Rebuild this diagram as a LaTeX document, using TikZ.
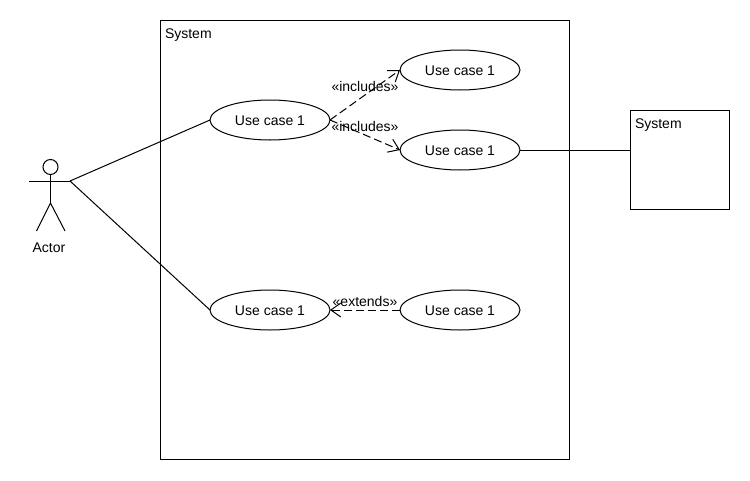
\documentclass[tikz,border=0pt]{standalone}
\usepackage{fontspec}
\setmainfont{Liberation Sans}
\usetikzlibrary{arrows.meta,shapes.geometric}

\tikzset{
  every node/.style={font=\fontsize{7.97}{9}\selectfont},
  every path/.style={line width=0.02cm},
  usecase/.style={draw,ellipse,inner sep=0pt,outer sep=0pt,minimum width=2.4cm,minimum height=0.8cm,text height=0.22cm,text depth=0cm},
  depline/.style={dash pattern=on 0.16cm off 0.08cm,-{Straight Barb[length=0.2cm,width=0.28cm]}},
  title/.style={anchor=west,inner sep=0pt}
}

\begin{document}
\begin{tikzpicture}
\useasboundingbox (0,0) rectangle (15,9.6);

% System boundary
\node[draw,inner sep=0pt,outer sep=0pt,minimum width=8.18cm,minimum height=8.78cm] (boundary) at (7.3,4.8) {};
\node[title] (boundarytitle) at (3.29,8.9) {System};

% Use cases
\node[usecase] (login) at (5.4,7.2) {Use case 1};
\node[usecase] (incone) at (9.2,8.2) {Use case 1};
\node[usecase] (inctwo) at (9.2,6.6) {Use case 1};
\node[usecase] (order) at (5.4,3.4) {Use case 1};
\node[usecase] (extone) at (9.2,3.4) {Use case 1};

% External system
\node[draw,inner sep=0pt,outer sep=0pt,minimum size=1.98cm] (external) at (13.6,6.4) {};
\node[title] (externaltitle) at (12.69,7.1) {System};

% Actor
\node[draw,circle,inner sep=0pt,outer sep=0pt,minimum size=0.3cm] (head) at (1.01,6.26) {};
\coordinate (handleft) at (0.58,5.98);
\coordinate (handright) at (1.4,5.98);
\coordinate (hip) at (1.01,5.54);
\coordinate (footleft) at (0.73,4.98);
\coordinate (footright) at (1.3,4.98);
\node (actorname) at (0.98,4.64) {Actor};
\draw (head.south) -- (hip);
\draw (handleft) -- (handright);
\draw (footleft) -- (hip) -- (footright);

% Associations
\draw (handright) -- (login.west);
\draw (handright) -- (order.west);
\draw (inctwo.east) -- (inctwo.east -| external.west);

% Dependencies
\draw[depline] (login.east) -- (incone.west);
\draw[depline] (login.east) -- (inctwo.west);
\draw[depline] (extone.west) -- (order.east);
\node (inclabelone) at (7.3,7.88) {«includes»};
\node (inclabeltwo) at (7.3,7.08) {«includes»};
\node (extlabel) at (7.3,3.58) {«extends»};

\end{tikzpicture}
\end{document}
